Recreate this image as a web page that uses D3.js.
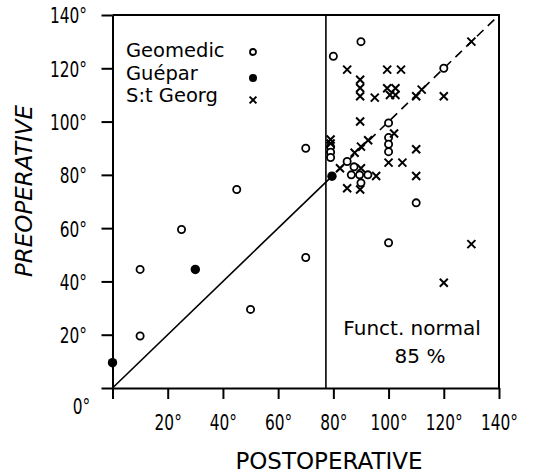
<!DOCTYPE html>
<html>
<head>
<meta charset="utf-8">
<script src="https://cdn.jsdelivr.net/npm/d3@7"></script>
<style>
  body { margin: 0; background: #fff; }
  text { font-family: 'DejaVu Sans', sans-serif; fill: #000; }
</style>
</head>
<body>
<div id="chart"></div>
<script>
// axis ticks (degrees), shared by both axes
const ticks = [0, 20, 40, 60, 80, 100, 120, 140]

// [postoperative, preoperative]
const geomedic = [
  [10, 44.5], [10, 19.5], [25, 59.5], [45, 74.5], [50, 29.5], [70, 90], [70, 49],
  [79, 90.5], [79, 88.5], [79, 86.5], [80, 124.5], [90, 130], [85, 85],
  [87.5, 83], [86.5, 80], [89.5, 80], [92.5, 80], [90, 77],
  [100, 99.5], [100, 94], [100, 91.5], [100, 88.7], [110, 69.5], [100, 54.5], [120, 120]
]
const guepar = [[0, 9.5], [30, 44.5], [79.5, 79.5]]
const stGeorg = [
  [85, 119.5], [99.5, 119.5], [104.5, 119.5], [130, 130],
  [89.7, 115.7], [89.7, 112.6], [89.7, 109.5], [95, 109],
  [99.5, 112.5], [102.5, 112.5], [100.5, 110], [102.5, 110],
  [110, 109.5], [112, 112], [120, 109.5], [89.7, 100],
  [79, 93.3], [79, 91.8], [82.4, 82.5], [87.7, 88.3], [90, 90.6], [92.6, 93],
  [102, 95.5], [110, 89.6], [100, 84.6], [105, 84.6], [110, 79.6],
  [95.5, 79.6], [85, 75], [89.7, 74.5], [90, 82.5],
  [130, 54], [120, 39.5]
]
const normalLimit = 77.3
const legendLabels = ['Geomedic', 'Guépar', 'S:t Georg']
const noteLines = ['Funct. normal', '85 %']

const width = 537
const height = 476
const narrow = 0.7 // tick digits are set in a condensed face

const x = d3.scaleLinear().domain([0, 140]).range([112.5, 499])
const y = d3.scaleLinear().domain([0, 140]).range([388, 15])

const svg = d3.select('#chart')
  .append('svg')
  .attr('width', width)
  .attr('height', height)

// x-axis
const xAxis = d3.axisBottom(x)
  .tickValues(ticks)
  .tickSize(11)
  .tickSizeOuter(0)
  .tickFormat(d => d + '°')

const gx = svg.append('g')
  .attr('transform', `translate(0,${y(0)})`)
  .call(xAxis)
gx.select('.domain').attr('stroke-width', 2)
gx.selectAll('.tick line').attr('stroke-width', 2)
gx.selectAll('.tick text')
  .attr('font-size', 22)
  .attr('dy', 0)
  .attr('y', 42)
  .attr('transform', `scale(${narrow},1)`)
  .filter(d => d === 0)
  .attr('x', -31.5 / narrow)
  .attr('y', 26)

// y-axis
const yAxis = d3.axisLeft(y)
  .tickValues(ticks)
  .tickSize(11)
  .tickSizeOuter(0)
  .tickFormat(d => (d ? d + '°' : ''))

const gy = svg.append('g')
  .attr('transform', `translate(${x(0)},0)`)
  .call(yAxis)
gy.select('.domain').attr('stroke-width', 2)
gy.selectAll('.tick line').attr('stroke-width', 2)
gy.selectAll('.tick text')
  .attr('font-size', 22)
  .attr('dy', '0.36em')
  .attr('x', -25.5 / narrow)
  .attr('transform', `scale(${narrow},1)`)

// frame: top and right
svg.append('path')
  .attr('fill', 'none')
  .attr('stroke', '#000')
  .attr('stroke-width', 2)
  .attr('d', `M${x(0)},${y(140)}H${x(140)}V${y(0)}`)

// functional limit and identity line
svg.append('line')
  .attr('x1', x(normalLimit)).attr('x2', x(normalLimit))
  .attr('y1', y(0)).attr('y2', y(140))
  .attr('stroke', '#000')
  .attr('stroke-width', 1.6)

svg.append('line')
  .attr('x1', x(0)).attr('y1', y(0))
  .attr('x2', x(normalLimit)).attr('y2', y(normalLimit))
  .attr('stroke', '#000')
  .attr('stroke-width', 1.6)

svg.append('line')
  .attr('x1', x(normalLimit)).attr('y1', y(normalLimit))
  .attr('x2', x(140)).attr('y2', y(140))
  .attr('stroke', '#000')
  .attr('stroke-width', 1.6)
  .attr('stroke-dasharray', '9,6')

const crossPath = s => `M${-s},${-s}L${s},${s}M${s},${-s}L${-s},${s}`

// points
svg.append('g')
  .selectAll('circle')
  .data(geomedic)
  .enter()
  .append('circle')
  .attr('cx', d => x(d[0]))
  .attr('cy', d => y(d[1]))
  .attr('r', 3.6)
  .attr('fill', '#fff')
  .attr('stroke', '#000')
  .attr('stroke-width', 1.8)

svg.append('g')
  .selectAll('circle')
  .data(guepar)
  .enter()
  .append('circle')
  .attr('cx', d => x(d[0]))
  .attr('cy', d => y(d[1]))
  .attr('r', 4.7)
  .attr('fill', '#000')

svg.append('g')
  .selectAll('path')
  .data(stGeorg)
  .enter()
  .append('path')
  .attr('transform', d => `translate(${x(d[0])},${y(d[1])})`)
  .attr('d', crossPath(4))
  .attr('fill', 'none')
  .attr('stroke', '#000')
  .attr('stroke-width', 2)

// legend
const legend = svg.append('g').attr('transform', 'translate(126,57)')
legend.selectAll('text')
  .data(legendLabels)
  .enter()
  .append('text')
  .attr('y', (d, i) => i * 22.5)
  .attr('font-size', 19.5)
  .text(d => d)

legend.append('circle')
  .attr('cx', 127).attr('cy', -5).attr('r', 3)
  .attr('fill', '#fff').attr('stroke', '#000').attr('stroke-width', 1.8)
legend.append('circle')
  .attr('cx', 127).attr('cy', 21).attr('r', 4)
  .attr('fill', '#000')
legend.append('path')
  .attr('transform', 'translate(127,43)')
  .attr('d', crossPath(3.4))
  .attr('stroke', '#000').attr('stroke-width', 2)

// note in the normal region
svg.append('g')
  .selectAll('text')
  .data(noteLines)
  .enter()
  .append('text')
  .attr('x', (d, i) => (i ? 420 : 412))
  .attr('y', (d, i) => 335 + i * 28)
  .attr('text-anchor', 'middle')
  .attr('font-size', 20)
  .text(d => d)

// axis titles
svg.append('text')
  .attr('x', 329)
  .attr('y', 469)
  .attr('text-anchor', 'middle')
  .attr('font-size', 23)
  .text('POSTOPERATIVE')

svg.append('text')
  .attr('transform', 'translate(32,191) rotate(-90)')
  .attr('text-anchor', 'middle')
  .attr('font-size', 23)
  .attr('font-style', 'italic')
  .text('PREOPERATIVE')
</script>
</body>
</html>
